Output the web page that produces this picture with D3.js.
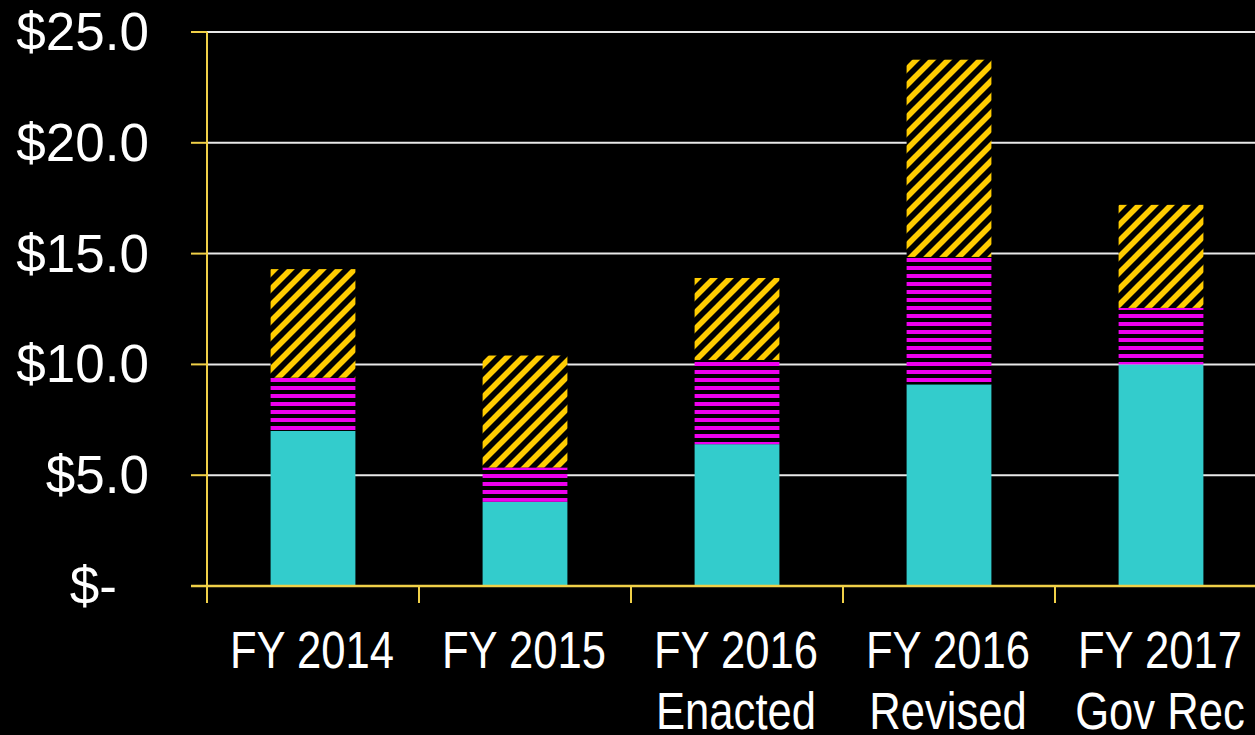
<!DOCTYPE html>
<html>
<head>
<meta charset="utf-8">
<script src="https://cdn.jsdelivr.net/npm/d3@7/dist/d3.min.js"></script>
<style>
  html, body { margin: 0; padding: 0; background: #000; }
  svg { display: block; }
</style>
</head>
<body>
<svg id="chart" width="1255" height="735"></svg>
<script>
// ---- data ----
const categories = [["FY 2014"], ["FY 2015"], ["FY 2016", "Enacted"], ["FY 2016", "Revised"], ["FY 2017", "Gov Rec"]];
const seriesNames = ["Base", "Middle", "Top"];
const baseValues   = [7.0, 3.8, 6.4, 9.1, 10.0];
const middleValues = [2.4, 1.55, 3.8, 5.75, 2.55];
const topValues    = [4.9, 5.05, 3.7, 8.9, 4.65];
const yTicks = [0, 5, 10, 15, 20, 25];
const yTickLabels = ["$-", "$5.0", "$10.0", "$15.0", "$20.0", "$25.0"];

// ---- layout ----
const svg = d3.select("#chart");
const x0 = 207, plotRight = 1267, yBottom = 586, yTop = 32;
const axisColor = "#F0D048";

const x = d3.scaleBand().domain(d3.range(categories.length)).range([x0, plotRight]).padding(0);
const y = d3.scaleLinear().domain([0, 25]).range([yBottom, yTop]);
const barW = x.bandwidth() * 0.4;

// patterns
const defs = svg.append("defs");
const pm = defs.append("pattern").attr("id", "magStripe").attr("patternUnits", "userSpaceOnUse")
  .attr("width", 8).attr("height", 8).attr("y", 2);
pm.append("rect").attr("width", 8).attr("height", 8).attr("fill", "#000");
pm.append("rect").attr("width", 8).attr("height", 4).attr("fill", "#EE00EE");

const py = defs.append("pattern").attr("id", "yelHatch").attr("patternUnits", "userSpaceOnUse")
  .attr("width", 16).attr("height", 16);
py.append("rect").attr("width", 16).attr("height", 16).attr("fill", "#000");
py.append("path").attr("d", "M-4,20 L20,-4 M-8,8 L8,-8 M8,24 L24,8")
  .attr("stroke", "#FFCC00").attr("stroke-width", 5.6);

// gridlines
svg.append("g").selectAll("line").data(yTicks.filter(d => d > 0)).join("line")
  .attr("x1", x0).attr("x2", 1255)
  .attr("y1", d => y(d)).attr("y2", d => y(d))
  .attr("stroke", "#E8E8E8").attr("stroke-width", 2);

// stacked bars
const rows = categories.map((c, i) => ({ i, Base: baseValues[i], Middle: middleValues[i], Top: topValues[i] }));
const stack = d3.stack().keys(seriesNames)(rows);
const fills = { Base: "#33CCCC", Middle: "url(#magStripe)", Top: "url(#yelHatch)" };

svg.append("g").selectAll("g").data(stack).join("g")
  .attr("fill", d => fills[d.key])
  .selectAll("rect").data(d => d).join("rect")
  .attr("x", d => x(d.data.i) + (x.bandwidth() - barW) / 2)
  .attr("width", barW)
  .attr("y", d => y(d[1]))
  .attr("height", d => y(d[0]) - y(d[1]));

// y axis line + ticks
const ax = svg.append("g");
ax.append("line").attr("x1", x0).attr("x2", x0).attr("y1", yTop).attr("y2", yBottom + 17)
  .attr("stroke", axisColor).attr("stroke-width", 2);
ax.selectAll(".yt").data(yTicks).join("line").attr("class", "yt")
  .attr("x1", x0 - 16).attr("x2", x0)
  .attr("y1", d => y(d)).attr("y2", d => y(d))
  .attr("stroke", axisColor).attr("stroke-width", 2);
// x axis
ax.append("line").attr("x1", x0 - 16).attr("x2", 1255).attr("y1", yBottom).attr("y2", yBottom)
  .attr("stroke", axisColor).attr("stroke-width", 2.5);
ax.selectAll(".xt").data(d3.range(1, categories.length)).join("line").attr("class", "xt")
  .attr("x1", d => x(d)).attr("x2", d => x(d))
  .attr("y1", yBottom).attr("y2", yBottom + 17)
  .attr("stroke", axisColor).attr("stroke-width", 2);

// y tick labels
svg.append("g").selectAll("text").data(yTicks).join("text")
  .attr("x", (d, i) => yTickLabels[i] === "$-" ? 117 : 149)
  .attr("y", d => y(d) + 18)
  .attr("text-anchor", "end")
  .attr("fill", "#fff")
  .attr("font-family", "'Liberation Sans', Arial, sans-serif")
  .attr("font-size", 53)
  .text((d, i) => yTickLabels[i]);

// x labels (condensed, like Arial Narrow)
const xl = svg.append("g").selectAll("text").data(categories).join("text")
  .attr("transform", (d, i) => `translate(${x(i) + x.bandwidth() / 2 - 1},668) scale(0.855,1)`)
  .attr("text-anchor", "middle")
  .attr("fill", "#fff")
  .attr("font-family", "'Liberation Sans', Arial, sans-serif")
  .attr("font-size", 51);
xl.selectAll("tspan").data(d => d).join("tspan")
  .attr("x", 0)
  .attr("dy", (d, j) => j === 0 ? 0 : 61)
  .text(d => d);
</script>
</body>
</html>
